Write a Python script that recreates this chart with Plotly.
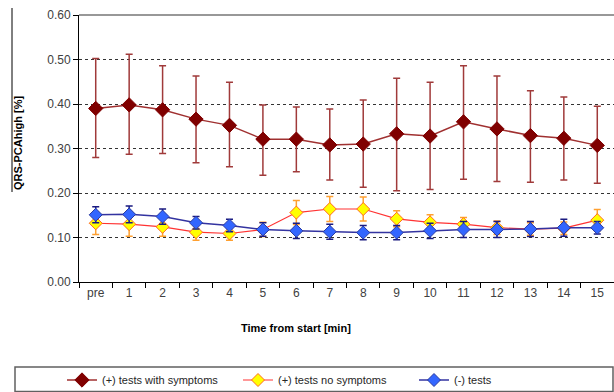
import plotly.graph_objects as go

categories = ["pre", "1", "2", "3", "4", "5", "6", "7", "8", "9", "10", "11", "12", "13", "14", "15"]

sym_mean = [0.390, 0.398, 0.387, 0.366, 0.352, 0.321, 0.321, 0.308, 0.310, 0.333, 0.328, 0.360, 0.344, 0.329, 0.323, 0.307]
sym_upper = [0.502, 0.512, 0.486, 0.463, 0.449, 0.398, 0.393, 0.389, 0.409, 0.458, 0.449, 0.486, 0.463, 0.430, 0.416, 0.395]
sym_lower = [0.280, 0.287, 0.289, 0.268, 0.259, 0.240, 0.248, 0.229, 0.213, 0.205, 0.208, 0.231, 0.226, 0.224, 0.229, 0.222]

nosym_mean = [0.132, 0.130, 0.124, 0.112, 0.109, 0.118, 0.156, 0.164, 0.164, 0.142, 0.134, 0.130, 0.122, 0.119, 0.121, 0.139]
nosym_err = [0.025, 0.027, 0.021, 0.018, 0.015, 0.016, 0.027, 0.028, 0.027, 0.018, 0.017, 0.015, 0.015, 0.014, 0.014, 0.024]

neg_mean = [0.151, 0.152, 0.147, 0.133, 0.127, 0.118, 0.115, 0.113, 0.111, 0.111, 0.115, 0.118, 0.118, 0.119, 0.122, 0.122]
neg_err = [0.018, 0.019, 0.017, 0.014, 0.014, 0.015, 0.017, 0.017, 0.016, 0.016, 0.017, 0.018, 0.018, 0.017, 0.019, 0.014]

series_names = ["(+) tests with symptoms", "(+) tests no symptoms", "(-) tests"]
y_ticks = [0.0, 0.1, 0.2, 0.3, 0.4, 0.5, 0.6]

FONT = "Liberation Sans, Arial, sans-serif"

fig = go.Figure()

fig.add_trace(go.Scatter(
    x=categories, y=sym_mean, name=series_names[0], mode="lines+markers",
    line=dict(color="#a03030", width=1.5),
    marker=dict(symbol="diamond", size=11, color="#800000", line=dict(color="#800000", width=1)),
    error_y=dict(type="data", symmetric=False,
                 array=[u - m for u, m in zip(sym_upper, sym_mean)],
                 arrayminus=[m - l for m, l in zip(sym_mean, sym_lower)],
                 color="#a03a3a", thickness=1.5, width=3.5),
))

fig.add_trace(go.Scatter(
    x=categories, y=nosym_mean, name=series_names[1], mode="lines+markers",
    line=dict(color="#ff3333", width=1.2),
    marker=dict(symbol="diamond", size=10, color="#ffff00", line=dict(color="#ff6a20", width=1)),
    error_y=dict(type="data", array=nosym_err, color="#ffa030", thickness=1.5, width=3.5),
))

fig.add_trace(go.Scatter(
    x=categories, y=neg_mean, name=series_names[2], mode="lines+markers",
    line=dict(color="#3333a0", width=1.5),
    marker=dict(symbol="diamond", size=10, color="#3366ff", line=dict(color="#2a3aa0", width=1)),
    error_y=dict(type="data", array=neg_err, color="#1a1a80", thickness=1.5, width=3.5),
))

W, H = 614, 392
L, R, T, B = 79, 0, 15, 110
pw = W - L - R
ph = H - T - B

def px_x(x):
    return (x - L) / pw

def px_y(y):
    return (H - B - y) / ph

fig.update_layout(
    width=W, height=H,
    margin=dict(l=L, r=R, t=T, b=B, autoexpand=False),
    paper_bgcolor="white", plot_bgcolor="white",
    font=dict(family=FONT, size=12, color="#404040"),
    showlegend=True,
    legend=dict(orientation="h", x=px_x(62), xanchor="left", y=px_y(380), yanchor="middle",
                bgcolor="rgba(0,0,0,0)", borderwidth=0,
                font=dict(family=FONT, size=11, color="#262626"),
                entrywidth=131, entrywidthmode="pixels", itemwidth=30),
    xaxis=dict(type="category", range=[-0.5, 15.5], showline=True, linecolor="#000000", linewidth=1,
               ticks="outside", tickson="boundaries", ticklen=5, tickcolor="#000000",
               showgrid=False, zeroline=False, tickfont=dict(size=12, color="#404040")),
    yaxis=dict(range=[0, 0.6], tickvals=y_ticks, tickformat=".2f", showline=True,
               linecolor="#000000", linewidth=1, ticks="outside", ticklen=5, tickcolor="#000000",
               showgrid=True, gridcolor="#333333", griddash="dot", gridwidth=1, zeroline=False,
               tickfont=dict(size=12, color="#404040")),
    shapes=[
        dict(type="line", xref="paper", yref="paper", x0=0, x1=1, y0=1, y1=1,
             line=dict(color="#333333", width=1.2)),
        dict(type="rect", xref="paper", yref="paper", x0=px_x(15), x1=px_x(613), y0=px_y(367), y1=px_y(391.5),
             line=dict(color="#606060", width=1.5), fillcolor="rgba(0,0,0,0)", layer="below"),
        dict(type="line", xref="paper", yref="paper", x0=px_x(12), x1=px_x(12), y0=px_y(8), y1=px_y(192),
             line=dict(color="#000000", width=1)),
    ],
    annotations=[
        dict(text="<b>Time from start [min]</b>", xref="paper", yref="paper", x=px_x(296), y=px_y(328),
             showarrow=False, xanchor="center", yanchor="middle", font=dict(family=FONT, size=11, color="#000000")),
        dict(text="<b>QRS-PCAhigh [%]</b>", xref="paper", yref="paper", x=px_x(18), y=px_y(143),
             showarrow=False, textangle=-90, xanchor="center", yanchor="middle",
             font=dict(family=FONT, size=11, color="#000000")),
    ],
)

fig.write_html("out.html", config={"displayModeBar": False},
               post_script="document.body.style.margin='0';document.body.style.overflow='hidden';")
